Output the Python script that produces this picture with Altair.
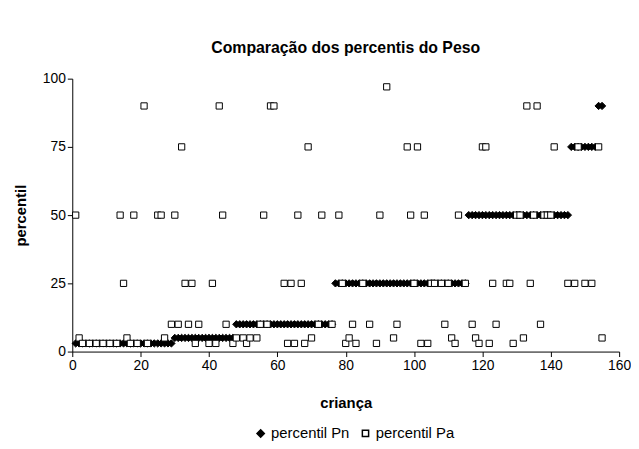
import altair as alt
import pandas as pd

N = 155
children = list(range(1, N + 1))

# percentil Pn (sorted, step levels)
pn_levels = [(1, 29, 3), (30, 47, 5), (48, 76, 10), (77, 115, 25),
             (116, 145, 50), (146, 153, 75), (154, 155, 90)]

# percentil Pa (child -> value), children not listed are not shown
pa_values = {
    1: 50, 2: 5, 3: 3, 5: 3, 7: 3, 9: 3, 11: 3, 13: 3,
    14: 50, 15: 25, 16: 5, 17: 3, 18: 50, 19: 3, 21: 90, 22: 3,
    25: 50, 26: 50, 27: 5, 29: 10, 30: 50, 31: 10, 32: 75, 33: 25, 34: 10, 35: 25,
    36: 3, 37: 10, 40: 3, 41: 25, 42: 3, 43: 90, 44: 50, 45: 10, 47: 3,
    48: 5, 50: 5, 51: 3, 52: 5, 54: 5, 55: 10, 56: 50, 57: 10, 58: 90, 59: 90,
    62: 25, 63: 3, 64: 25, 65: 3, 66: 50, 67: 25, 68: 3, 69: 75, 70: 5,
    72: 10, 73: 50, 76: 10, 78: 50, 79: 25, 80: 3, 81: 5, 82: 10, 83: 3,
    85: 25, 87: 10, 89: 3, 90: 50, 92: 97, 94: 5, 95: 10, 98: 75, 99: 50,
    100: 25, 101: 75, 102: 3, 103: 50, 104: 3, 105: 25, 106: 25, 108: 25,
    109: 10, 110: 25, 111: 5, 112: 3, 113: 50, 115: 25, 117: 10, 118: 5,
    119: 3, 120: 75, 121: 75, 122: 3, 123: 25, 124: 10, 127: 25, 128: 25,
    129: 3, 130: 50, 131: 50, 132: 5, 133: 90, 134: 25, 135: 50, 136: 90,
    137: 10, 138: 50, 139: 50, 140: 50, 141: 75, 145: 25, 147: 25, 148: 75,
    150: 25, 152: 25, 154: 75, 155: 5,
}

pn = []
for c in children:
    for a, b, v in pn_levels:
        if a <= c <= b:
            pn.append(v)
            break

rows = []
for c, v in zip(children, pn):
    rows.append({"crianca": c, "percentil": v, "serie": "percentil Pn"})
for c in children:
    if c in pa_values:
        rows.append({"crianca": c, "percentil": pa_values[c], "serie": "percentil Pa"})
df = pd.DataFrame(rows)

series = ["percentil Pn", "percentil Pa"]

def leg():
    return alt.Legend(title=None, orient="none", direction="horizontal",
                      legendX=183, legendY=351, labelFontSize=15,
                      labelFont="Liberation Sans", labelColor="black",
                      columnPadding=8, labelOffset=3)

chart = alt.Chart(df).mark_point(filled=True, strokeWidth=1, opacity=1).encode(
    x=alt.X("crianca:Q", title="criança",
            scale=alt.Scale(domain=[0, 160], nice=False, zero=True),
            axis=alt.Axis(values=[0, 20, 40, 60, 80, 100, 120, 140, 160], grid=False,
                          titlePadding=24, labelFlush=False)),
    y=alt.Y("percentil:Q", title="percentil",
            scale=alt.Scale(domain=[0, 100], nice=False),
            axis=alt.Axis(values=[0, 25, 50, 75, 100], grid=False, titlePadding=14)),
    shape=alt.Shape("serie:N", scale=alt.Scale(domain=series, range=["diamond", "square"]),
                    legend=leg()),
    fill=alt.Fill("serie:N", scale=alt.Scale(domain=series, range=["black", "white"]),
                  legend=leg()),
    stroke=alt.Stroke("serie:N", scale=alt.Scale(domain=series, range=["black", "black"]),
                      legend=leg()),
    size=alt.Size("serie:N", scale=alt.Scale(domain=series, range=[55, 40]),
                  legend=leg()),
).properties(
    width=553, height=276,
    title=alt.Title("Comparação dos percentis do Peso", fontSize=16, fontWeight="bold",
                    font="Liberation Sans", anchor="middle", offset=16),
    autosize=alt.AutoSizeParams(type="none"),
    padding={"left": 65, "top": 69, "right": 12, "bottom": 90},
).configure_view(stroke=None).configure_axis(
    labelFont="Liberation Sans", titleFont="Liberation Sans", labelFontSize=14,
    titleFontSize=15, titleFontWeight="bold", labelColor="black", titleColor="black",
    domainColor="black", tickColor="black", tickSize=5,
)

chart.save("out.html", embed_options={"renderer": "svg", "actions": False})
